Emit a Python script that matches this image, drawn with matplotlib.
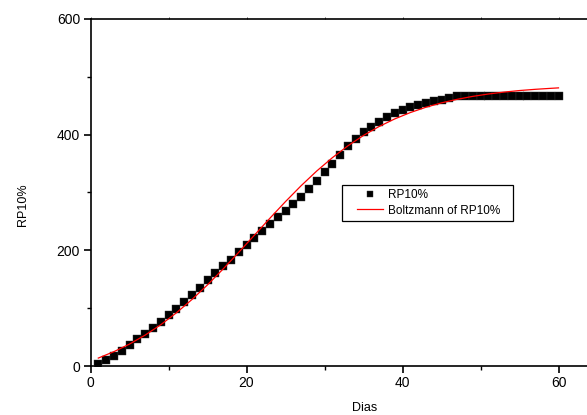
import matplotlib
matplotlib.use("Agg")
import matplotlib.pyplot as plt
from matplotlib.ticker import MultipleLocator
from matplotlib.patches import Rectangle

plt.rcParams['font.family'] = ['Liberation Sans', 'DejaVu Sans']

# Measured data (RP10%)
days = list(range(1, 61))
rp10 = [3, 10, 18, 26, 36, 46, 56, 66, 76, 88,
        99, 111, 122, 135, 149, 161, 173, 184, 197, 210,
        222, 234, 245, 257, 268, 280, 293, 306, 320, 335,
        350, 365, 380, 393, 404, 414, 422, 430, 437, 442,
        447, 451, 454, 458, 460, 463, 466, 466, 466, 466,
        466, 466, 466, 466, 466, 466, 466, 466, 466, 466]

# Boltzmann fit curve values
fit_days = [1, 3, 5, 7, 9, 11, 13, 15, 17, 19, 21, 23, 25, 27, 29, 31,
            33, 35, 37, 39, 41, 43, 45, 47, 49, 51, 53, 55, 57, 59, 60]
fit_vals = [13.7, 24.8, 37.9, 53.4, 71.3, 91.8, 114.9, 140.3, 167.7, 196.5,
            226.0, 255.5, 284.3, 311.7, 337.1, 360.1, 380.7, 398.7, 414.1,
            427.2, 438.2, 447.4, 455.0, 461.1, 466.2, 470.3, 473.6, 476.3,
            478.4, 480.1, 480.9]

W, H = 587, 415
fig = plt.figure(figsize=(W / 100, H / 100), dpi=100)
ax_w = 65 * 7.8
ax = fig.add_axes([90.5 / W, (H - 366) / H, ax_w / W, (366 - 19) / H])

ax.plot(days, rp10, linestyle='none', marker='s', markersize=5.6,
        color='black', markeredgecolor='#333333', markeredgewidth=0.3,
        label='RP10%', zorder=3)
ax.plot(fit_days, fit_vals, color='red', linewidth=0.9,
        label='Boltzmann of RP10%', zorder=4)

ax.set_xlim(0, 65)
ax.set_ylim(0, 600)
ax.xaxis.set_major_locator(MultipleLocator(20))
ax.xaxis.set_minor_locator(MultipleLocator(10))
ax.yaxis.set_major_locator(MultipleLocator(200))
ax.yaxis.set_minor_locator(MultipleLocator(100))

for s in ax.spines.values():
    s.set_linewidth(1.2)
ax.spines['right'].set_visible(False)

ax.tick_params(axis='both', which='major', direction='out', length=5,
               width=1.2, labelsize=10, pad=2.5)
ax.tick_params(axis='both', which='minor', direction='out', length=3,
               width=1.0)
ax.tick_params(axis='x', which='both', top=True, labeltop=False)
for t in ax.xaxis.get_major_ticks() + ax.xaxis.get_minor_ticks():
    t.tick2line.set_markersize(1.5)
    t.tick2line.set_markeredgewidth(0.5)
    t.tick2line.set_color('#888888')

ax.set_xlabel('Dias', fontsize=9)
ax.set_ylabel('RP10%', fontsize=9)
ax.xaxis.set_label_coords((365 - 90.5) / ax_w, (366 - 402) / 347)
ax.yaxis.set_label_coords((29 - 90.5) / ax_w, (366 - 205) / 347)

# legend frame
frame = Rectangle((342 / W, 1 - 221 / H), (513 - 342) / W, 36 / H,
                  transform=fig.transFigure, facecolor='white',
                  edgecolor='black', linewidth=0.9, zorder=5,
                  clip_on=False)
ax.add_artist(frame)

leg = ax.legend(loc='upper left', bbox_to_anchor=(357 / W, 1 - 189 / H),
                bbox_transform=fig.transFigure, borderaxespad=0,
                borderpad=0, fontsize=8.5, frameon=False,
                handlelength=2.2, handletextpad=0.45,
                labelspacing=0.3, markerscale=0.85)
leg.set_zorder(6)

fig.savefig('out.png', dpi=100)
